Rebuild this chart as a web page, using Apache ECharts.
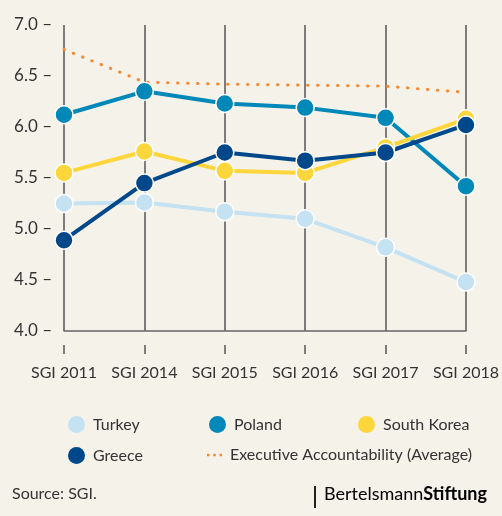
<!DOCTYPE html>
<html>
<head>
<meta charset="utf-8">
<title>Executive Accountability</title>
<style>
  html, body { margin: 0; padding: 0; background: #f5f2ea; }
  #chart { width: 502px; height: 516px; }
</style>
</head>
<body>
<div id="chart"></div>
<script src="https://cdn.jsdelivr.net/npm/echarts@6/dist/echarts.min.js"></script>
<script>
// data
var years = ['SGI 2011', 'SGI 2014', 'SGI 2015', 'SGI 2016', 'SGI 2017', 'SGI 2018'];
var turkey = [5.25, 5.26, 5.17, 5.10, 4.82, 4.48];
var poland = [6.12, 6.35, 6.23, 6.19, 6.09, 5.42];
var southKorea = [5.55, 5.76, 5.57, 5.55, 5.80, 6.08];
var greece = [4.89, 5.45, 5.75, 5.67, 5.75, 6.02];
var average = [6.76, 6.44, 6.42, 6.41, 6.40, 6.34];
var yTicks = [4.0, 4.5, 5.0, 5.5, 6.0, 6.5, 7.0];

var colors = {
    'Turkey': '#c4e2f1',
    'Poland': '#0088b9',
    'South Korea': '#fdd63c',
    'Greece': '#00488a',
    'Executive Accountability (Average)': '#f28b36'
};

var font = 'Lato, "Noto Sans", sans-serif';
var chart = echarts.init(document.getElementById('chart'));

function countrySeries(name, data) {
    return {
        name: name,
        type: 'line',
        data: data,
        symbol: 'circle',
        symbolSize: 18,
        color: colors[name],
        lineStyle: { width: 4, color: colors[name] },
        itemStyle: { color: colors[name], borderColor: '#fff', borderWidth: 1.5 },
        emphasis: { disabled: true },
        z: 3
    };
}

// one legend per item, placed like the original
function legendItem(name, left, top, icon, w, h) {
    return {
        data: [name],
        left: left,
        top: top,
        icon: icon,
        itemWidth: w,
        itemHeight: h,
        itemGap: 0,
        selectedMode: false,
        itemStyle: { borderWidth: 0 },
        textStyle: { fontFamily: font, fontSize: 16, color: '#333', padding: [0, 0, 0, 3] }
    };
}

var dots = 'path://M0,0h2.4v2.4h-2.4z M6,0h2.4v2.4h-2.4z M12,0h2.4v2.4h-2.4z';

var option = {
    backgroundColor: '#f5f2ea',
    animation: false,
    grid: { left: 64, right: 35, top: 25, bottom: 185 },
    legend: [
        legendItem('Turkey', 63, 411, 'circle', 17, 17),
        legendItem('Poland', 204, 411, 'circle', 17, 17),
        legendItem('South Korea', 353, 411, 'circle', 17, 17),
        legendItem('Greece', 63, 442, 'circle', 17, 17),
        legendItem('Executive Accountability (Average)', 202, 442, dots, 15, 17)
    ],
    xAxis: [{
        type: 'category',
        data: years,
        boundaryGap: false,
        axisLine: { show: true, lineStyle: { color: '#666', width: 1.5 } },
        axisTick: { show: false },
        axisLabel: { show: false },
        splitLine: { show: true, interval: 0, lineStyle: { color: '#555', width: 1.5 } }
    }, {
        type: 'category',
        data: years,
        boundaryGap: false,
        position: 'bottom',
        offset: 14,
        axisLine: { show: false },
        axisTick: { show: true, interval: 0, length: 9, lineStyle: { color: '#555', width: 1.5 } },
        axisLabel: { interval: 0, margin: 20, fontFamily: font, fontSize: 16, color: '#333' }
    }],
    yAxis: {
        type: 'value',
        min: yTicks[0],
        max: yTicks[yTicks.length - 1],
        interval: 0.5,
        axisLine: { show: false },
        axisTick: { show: false },
        splitLine: { show: false },
        axisLabel: {
            margin: 12,
            fontFamily: font,
            fontSize: 17,
            color: '#333',
            formatter: function (v) { return v.toFixed(1) + ' \u2013'; }
        }
    },
    series: [
        {
            name: 'Executive Accountability (Average)',
            type: 'line',
            data: average,
            symbol: 'none',
            color: colors['Executive Accountability (Average)'],
            lineStyle: { width: 3, type: [0.5, 9.5], cap: 'round', color: colors['Executive Accountability (Average)'] },
            emphasis: { disabled: true },
            z: 2
        },
        countrySeries('Turkey', turkey),
        countrySeries('Poland', poland),
        countrySeries('South Korea', southKorea),
        countrySeries('Greece', greece)
    ],
    graphic: [
        {
            type: 'text',
            left: 12,
            top: 486,
            style: { text: 'Source: SGI.', font: '16px ' + font, fill: '#333' }
        },
        {
            type: 'rect',
            shape: { x: 314, y: 486, width: 2, height: 22 },
            style: { fill: '#222' }
        },
        {
            type: 'text',
            left: 324,
            top: 485,
            style: {
                text: '{a|Bertelsmann}{b|Stiftung}',
                rich: {
                    a: { fontFamily: font, fontSize: 18, color: '#222' },
                    b: { fontFamily: font, fontSize: 18, fontWeight: 'bold', color: '#222' }
                }
            }
        }
    ]
};

chart.setOption(option);
</script>
</body>
</html>
